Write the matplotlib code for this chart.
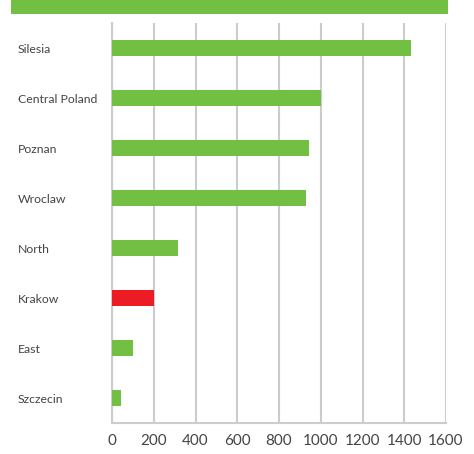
import matplotlib
matplotlib.use("Agg")
import matplotlib.pyplot as plt
from matplotlib.patches import Rectangle
from matplotlib.transforms import blended_transform_factory

regions = ["Silesia", "Central Poland", "Poznan", "Wroclaw", "North", "Krakow", "East", "Szczecin"]
values = [1432, 1000, 944, 929, 316, 200, 100, 43]
highlight = "Krakow"
xticks = [0, 200, 400, 600, 800, 1000, 1200, 1400, 1600]

GREEN = "#72bf44"
RED = "#ed1c24"
GRID = "#cccccc"
TEXT = "#444444"

plt.rcParams['font.family'] = ['Lato', 'DejaVu Sans']

fig = plt.figure(figsize=(4.74, 4.54), dpi=100)
ax = fig.add_axes([112/474, 31/454, 334/474, 400/454])

colors = [RED if r == highlight else GREEN for r in regions]
ypos = list(range(len(regions)))
ax.barh(ypos, values, height=0.32, color=colors, zorder=3)

ax.set_xlim(0, 1600)
ax.set_ylim(len(regions) - 0.5, -0.5)
ax.set_xticks(xticks)
ax.set_xticklabels([str(t) for t in xticks], fontsize=11, color=TEXT)
ax.xaxis.grid(True, color=GRID, linewidth=1.5, zorder=0)
ax.tick_params(axis='x', length=0, pad=8)

ax.set_yticks([])
tr = blended_transform_factory(fig.transFigure, ax.transData)
for i, r in enumerate(regions):
    ax.text(18/474, i + 0.03, r, transform=tr, ha='left', va='center', fontsize=8.8,
            color=TEXT)

for s in ['top', 'right']:
    ax.spines[s].set_visible(False)
for s in ['left', 'bottom']:
    ax.spines[s].set_color(GRID)
    ax.spines[s].set_linewidth(1.5)

fig.patches.append(Rectangle((11/474, 440/454), 437/474, 14/454, transform=fig.transFigure,
                             facecolor=GREEN, edgecolor='none'))

fig.savefig("out.png", dpi=100)
